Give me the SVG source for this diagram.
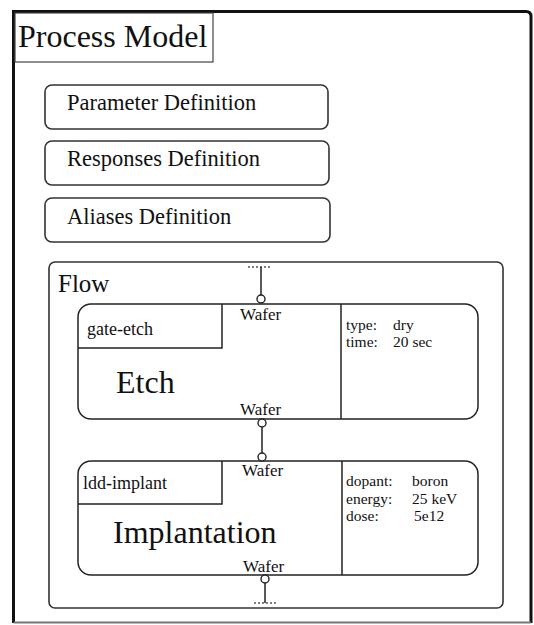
<svg xmlns="http://www.w3.org/2000/svg" width="534" height="625" viewBox="0 0 534 625">
<style>
text{font-family:"Liberation Serif","Times New Roman",serif;fill:#111}
.box{fill:none;stroke:#333;stroke-width:1.6}
.thin{fill:none;stroke:#444;stroke-width:1.2}
.ln{fill:none;stroke:#222;stroke-width:1.5}
.port{fill:#fff;stroke:#222;stroke-width:1.4}
.dot{fill:none;stroke:#555;stroke-width:1.5;stroke-dasharray:2 2}
.def{font-size:22.5px}
.lbl{font-size:18px}
.prop{font-size:15.5px}
.big{font-size:32px}
.wafer{font-size:17px}
</style>
<rect width="534" height="625" fill="#fff"/>
<g id="process-model">
<path d="M13.5,623 L13.5,11.5 L526,11.5 Q531,11.5 531,16.5 L531,623" fill="none" stroke="#111" stroke-width="3"/>
<path d="M13.5,622.5 L531,622.5" fill="none" stroke="#777" stroke-width="2"/>
<rect x="15" y="13" width="198" height="49" class="thin"/>
<text x="18" y="47" style="font-size:32px">Process Model</text>
</g>
<g id="parameter-definition">
<rect x="45" y="85" width="283" height="44" rx="7" class="box"/>
<text x="67" y="110" class="def">Parameter Definition</text>
</g>
<g id="responses-definition">
<rect x="45" y="141" width="284" height="44" rx="7" class="box"/>
<text x="67" y="166" class="def">Responses Definition</text>
</g>
<g id="aliases-definition">
<rect x="45" y="198" width="285" height="44" rx="7" class="box"/>
<text x="67" y="224" class="def">Aliases Definition</text>
</g>
<g id="flow">
<rect x="49" y="262" width="454" height="346" rx="6" class="box"/>
<text x="58" y="292" style="font-size:25px">Flow</text>
</g>
<g id="etch">
<rect x="78" y="304" width="400" height="115" rx="13" class="ln"/>
<path d="M78,348 L222,348 L222,304" class="ln"/>
<line x1="341" y1="304" x2="341" y2="419" class="ln"/>
<text x="87" y="335" class="lbl">gate-etch</text>
<text x="116" y="393" class="big">Etch</text>
<text x="346" y="329.5" class="prop">type:</text>
<text x="393" y="329.5" class="prop">dry</text>
<text x="346" y="347" class="prop">time:</text>
<text x="393" y="347" class="prop">20 sec</text>
<text x="240" y="320" class="wafer">Wafer</text>
<text x="240" y="415" class="wafer">Wafer</text>
</g>
<g id="implantation">
<rect x="78" y="461" width="400" height="114" rx="13" class="ln"/>
<path d="M78,504 L222,504 L222,461" class="ln"/>
<line x1="342" y1="461" x2="342" y2="575" class="ln"/>
<text x="83" y="489" class="lbl">ldd-implant</text>
<text x="113" y="543" class="big">Implantation</text>
<text x="346" y="486" class="prop">dopant:</text>
<text x="412" y="486" class="prop">boron</text>
<text x="346" y="503.5" class="prop">energy:</text>
<text x="412" y="503.5" class="prop">25 keV</text>
<text x="346" y="521" class="prop">dose:</text>
<text x="414" y="521" class="prop">5e12</text>
<text x="242" y="476" class="wafer">Wafer</text>
<text x="243" y="572" class="wafer">Wafer</text>
</g>
<g id="connectors">
<line x1="248" y1="267" x2="272" y2="267" class="dot"/>
<line x1="261" y1="267" x2="261" y2="295" class="ln"/>
<circle cx="261" cy="299" r="4" class="port"/>
<circle cx="262" cy="423" r="4" class="port"/>
<line x1="262" y1="427" x2="262" y2="453" class="ln"/>
<circle cx="262" cy="457" r="4" class="port"/>
<circle cx="265" cy="579" r="4" class="port"/>
<line x1="265" y1="583" x2="265" y2="603" class="ln"/>
<line x1="254" y1="603" x2="276" y2="603" class="dot"/>
</g>
</svg>
